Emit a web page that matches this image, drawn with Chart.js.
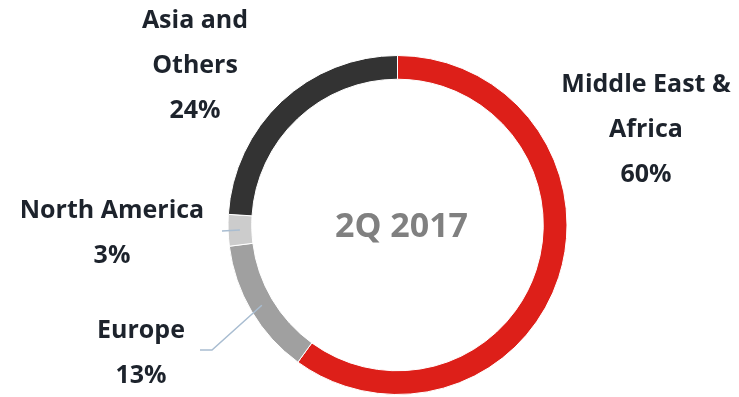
<!DOCTYPE html>
<html>
<head>
<meta charset="utf-8">
<script src="https://cdn.jsdelivr.net/npm/chart.js@4"></script>
<style>
  html, body { margin: 0; padding: 0; background: #fff; }
  #wrap { width: 739px; height: 397px; position: relative; }
</style>
</head>
<body>
<div id="wrap"><canvas id="regionChart"></canvas></div>
<script>
const regions = ['Middle East & Africa', 'Europe', 'North America', 'Asia and Others'];
const shares = [60, 13, 3, 24];
const colours = ['#DD1F19', '#A0A0A0', '#CCCCCC', '#333333'];
const centerText = '2Q 2017';

// label lines and where they sit (canvas px), leader line points
const labelLines = [
  ['Middle East &', 'Africa', '60%'],
  ['Europe', '13%'],
  ['North America', '3%'],
  ['Asia and', 'Others', '24%']
];
const labelPos = [[646, 85], [141, 331], [112, 211], [195, 21]];
const leaders = [null, [[200, 350], [212, 350]], [[222, 231]], null];

const labelsPlugin = {
  id: 'labels',
  afterDraw(chart) {
    const ctx = chart.ctx;
    const arcs = chart.getDatasetMeta(0).data;
    ctx.save();
    // leader lines to the middle of the ring
    ctx.strokeStyle = '#A9BDD1';
    ctx.lineWidth = 1.5;
    leaders.forEach((pts, i) => {
      if (!pts) return;
      const a = arcs[i];
      const mid = (a.startAngle + a.endAngle) / 2;
      const r = (a.innerRadius + a.outerRadius) / 2;
      ctx.beginPath();
      ctx.moveTo(pts[0][0], pts[0][1]);
      for (let k = 1; k < pts.length; k++) ctx.lineTo(pts[k][0], pts[k][1]);
      ctx.lineTo(a.x + Math.cos(mid) * r, a.y + Math.sin(mid) * r);
      ctx.stroke();
    });
    ctx.fillStyle = '#1D232C';
    ctx.font = 'bold 25px "Open Sans"';
    ctx.textAlign = 'center';
    ctx.textBaseline = 'middle';
    labelLines.forEach((lines, i) => {
      lines.forEach((t, j) => {
        ctx.fillText(t, labelPos[i][0], labelPos[i][1] + j * 45);
      });
    });
    // centre text
    const a0 = arcs[0];
    ctx.fillStyle = '#808080';
    ctx.font = 'bold 34px "Open Sans"';
    ctx.fillText(centerText, a0.x + 4, a0.y + 2);
    ctx.restore();
  }
};

new Chart(document.getElementById('regionChart'), {
  type: 'doughnut',
  data: {
    labels: regions,
    datasets: [{
      data: shares,
      backgroundColor: colours,
      borderColor: '#ffffff',
      borderWidth: 1
    }]
  },
  options: {
    responsive: true,
    maintainAspectRatio: false,
    animation: false,
    cutout: '86%',
    layout: { padding: { left: 227, right: 171, top: 55, bottom: 2 } },
    plugins: {
      legend: { display: false },
      tooltip: { enabled: false }
    }
  },
  plugins: [labelsPlugin]
});
</script>
</body>
</html>
